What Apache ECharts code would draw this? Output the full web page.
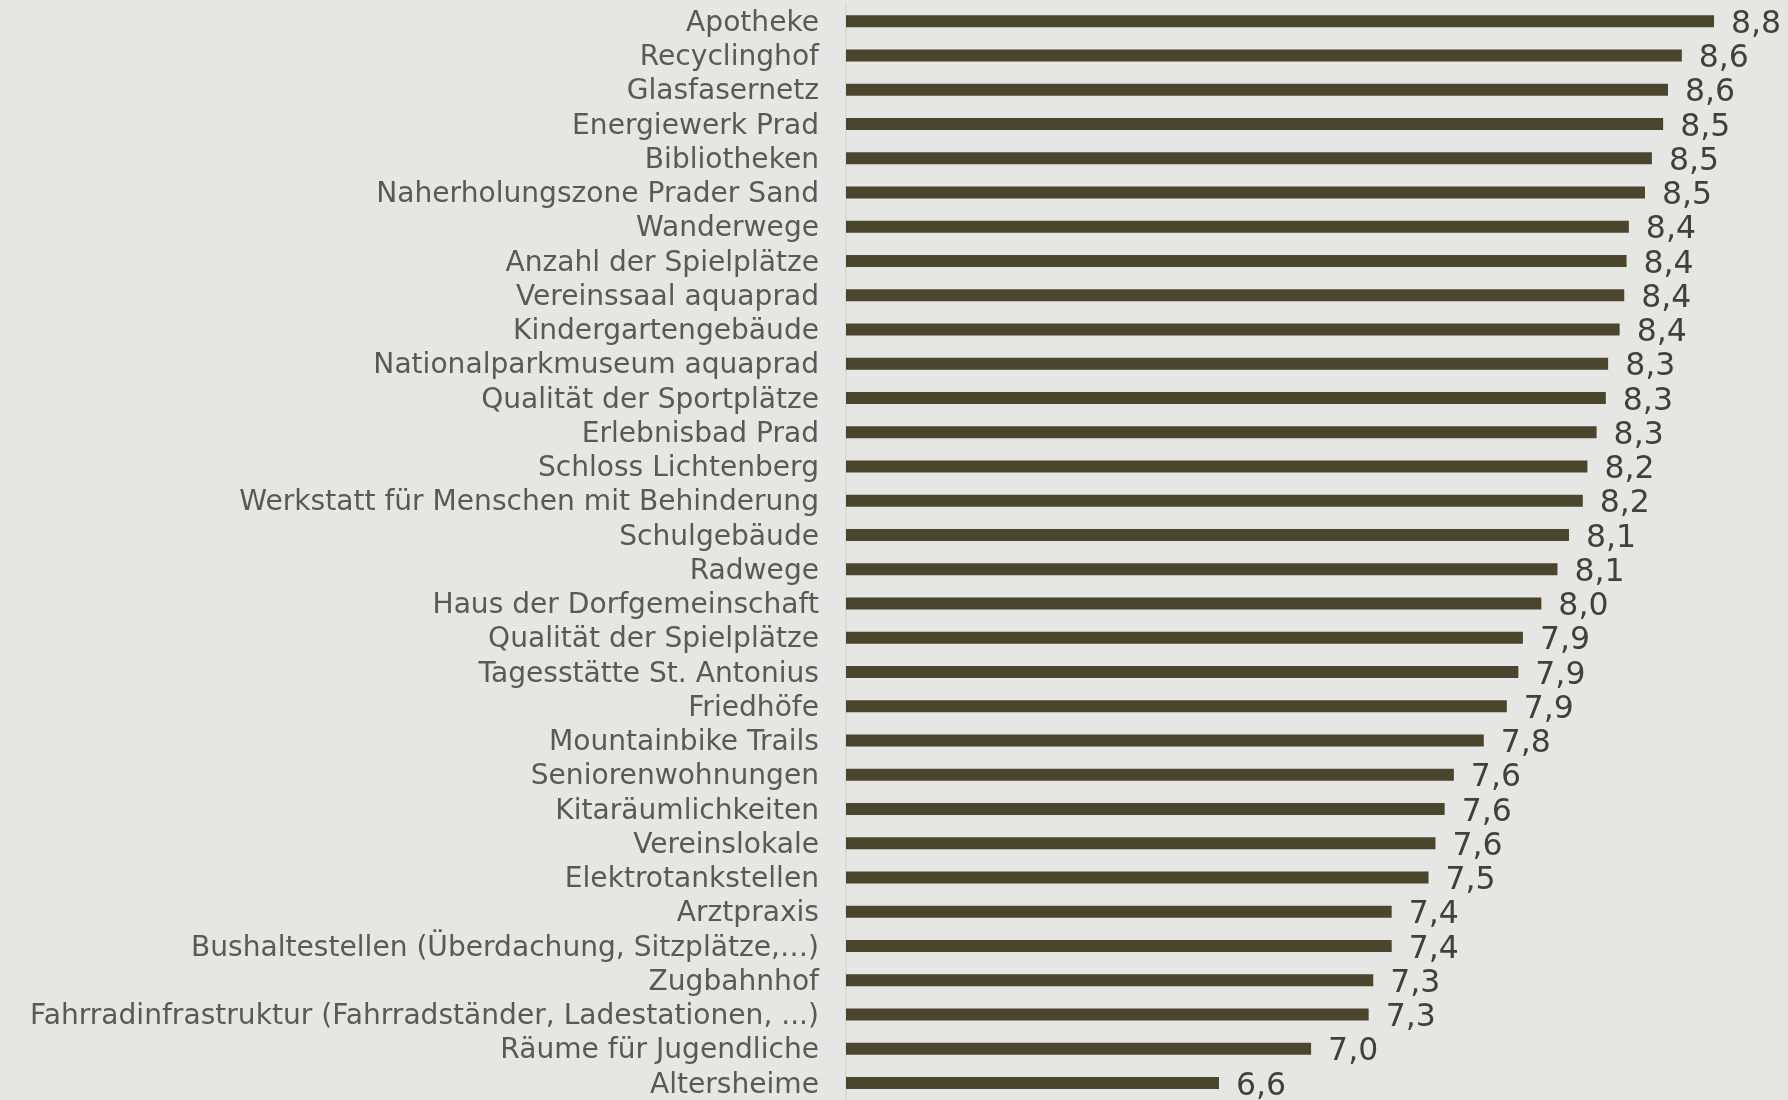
<!DOCTYPE html>
<html><head><meta charset="utf-8">
<script src="https://cdn.jsdelivr.net/npm/echarts@6/dist/echarts.min.js"></script>
<style>html,body{margin:0;padding:0;background:#e6e7e5;}#c{width:1788px;height:1100px;}</style>
</head><body><div id="c"></div>
<script>
const categories = ["Apotheke","Recyclinghof","Glasfasernetz","Energiewerk Prad","Bibliotheken","Naherholungszone Prader Sand","Wanderwege","Anzahl der Spielplätze","Vereinssaal aquaprad","Kindergartengebäude","Nationalparkmuseum aquaprad","Qualität der Sportplätze","Erlebnisbad Prad","Schloss Lichtenberg","Werkstatt für Menschen mit Behinderung","Schulgebäude","Radwege","Haus der Dorfgemeinschaft","Qualität der Spielplätze","Tagesstätte St. Antonius","Friedhöfe","Mountainbike Trails","Seniorenwohnungen","Kitaräumlichkeiten","Vereinslokale","Elektrotankstellen","Arztpraxis","Bushaltestellen (Überdachung, Sitzplätze,…)","Zugbahnhof","Fahrradinfrastruktur (Fahrradständer, Ladestationen, ...)","Räume für Jugendliche","Altersheime"];
const values = [8.77,8.63,8.57,8.549,8.50,8.47,8.40,8.39,8.38,8.36,8.31,8.30,8.26,8.22,8.20,8.14,8.09,8.02,7.94,7.92,7.87,7.77,7.64,7.60,7.56,7.53,7.37,7.37,7.29,7.27,7.02,6.62];
const axisMin = 5, axisMax = 9;

const chart = echarts.init(document.getElementById('c'), null, {renderer:'canvas'});
chart.setOption({
  backgroundColor:'#e6e7e5',
  animation:false,
  grid:{left:846, right:21, top:4, bottom:0, containLabel:false},
  xAxis:{type:'value', min:axisMin, max:axisMax, show:false},
  yAxis:{type:'category', inverse:true, data:categories,
    axisLine:{show:true, lineStyle:{color:'#d5d6d4', width:1.5}},
    axisTick:{show:false},
    axisLabel:{interval:0, hideOverlap:false, color:'#595959', fontFamily:'DejaVu Sans', fontSize:28.1, margin:27,
      verticalAlign:'top', lineHeight:5}
  },
  series:[{type:'bar', data:values, barWidth:12,
    itemStyle:{color:'#4a452d'},
    label:{show:true, position:'right', distance:17, offset:[0,3.5], color:'#404040', fontFamily:'DejaVu Sans', fontSize:31.5,
      formatter:p=>p.value.toFixed(1).replace('.',',')}
  }]
});
</script></body></html>
